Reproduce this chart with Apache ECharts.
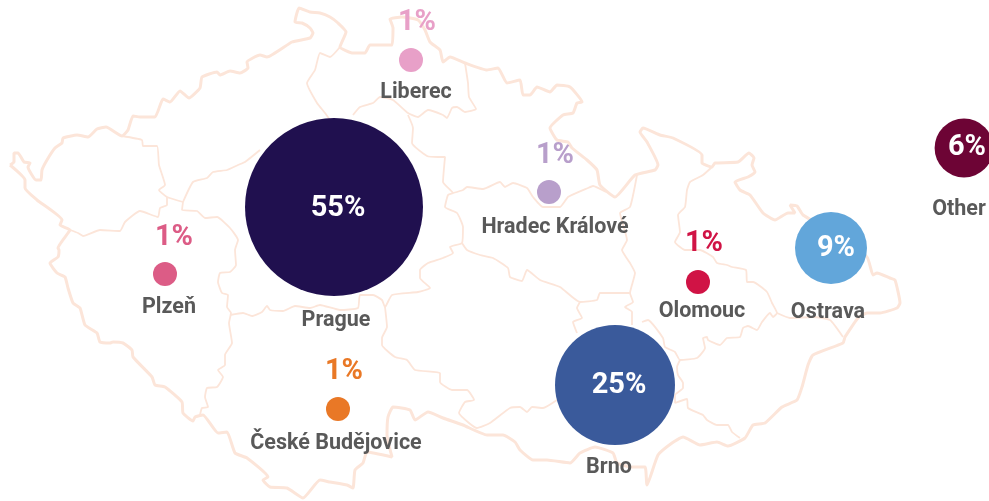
<!DOCTYPE html>
<html>
<head>
<meta charset="utf-8">
<script src="https://cdn.jsdelivr.net/npm/echarts@6/dist/echarts.min.js"></script>
<style>
html, body { margin: 0; padding: 0; background: #fff; }
#main { width: 989px; height: 501px; }
</style>
</head>
<body>
<div id="main"></div>
<script>
// values
var cities = ['Prague', 'Brno', 'Ostrava', 'Other', 'Liberec', 'Hradec Králové', 'Plzeň', 'Olomouc', 'České Budějovice'];
var shares = [55, 25, 9, 6, 1, 1, 1, 1, 1];
// where each city sits on the traced map
var cityX = [334, 615, 831, 964, 411, 549, 165, 698, 338];
var cityY = [207, 385, 248, 148, 60, 192, 274, 282, 409];

// traced map, country border first
var borderPath = [[10,165],[14,162],[14,153],[18,153],[24,162],[30,163],[28,167],[36,180],[41,180],[42,170],[47,160],[55,148],[62,143],[63,138],[77,135],[88,137],[97,129],[106,127],[122,136],[128,130],[133,116],[140,117],[155,117],[163,99],[170,102],[180,91],[189,98],[200,88],[202,77],[217,72],[220,75],[230,71],[240,73],[248,68],[247,62],[260,55],[267,57],[292,42],[310,38],[313,33],[310,28],[302,23],[295,22],[299,8],[310,12],[320,13],[330,17],[338,23],[346,32],[340,47],[353,53],[365,53],[370,45],[392,45],[393,28],[390,19],[402,17],[418,20],[425,30],[430,42],[440,50],[443,62],[450,57],[465,63],[487,70],[498,68],[507,83],[520,80],[523,95],[530,95],[537,87],[550,92],[557,85],[570,87],[582,102],[577,103],[573,113],[563,115],[550,128],[557,140],[568,142],[572,148],[587,160],[597,170],[600,185],[615,197],[635,175],[655,170],[658,165],[647,142],[640,132],[643,128],[660,135],[673,138],[702,155],[702,163],[712,167],[715,163],[738,162],[749,153],[754,158],[752,165],[755,172],[748,177],[735,182],[740,190],[750,195],[763,213],[775,220],[788,213],[795,213],[790,205],[797,206],[803,215],[820,225],[867,257],[873,275],[877,273],[890,278],[895,280],[900,303],[897,308],[880,313],[867,313],[858,318],[845,337],[843,343],[813,355],[808,365],[802,387],[797,400],[782,407],[765,423],[753,425],[745,438],[728,446],[717,442],[700,445],[683,437],[672,443],[658,455],[647,485],[645,467],[632,467],[617,463],[613,453],[595,447],[580,453],[570,463],[547,460],[533,460],[520,450],[515,442],[503,435],[487,435],[463,425],[443,418],[428,412],[415,420],[410,410],[393,407],[388,417],[387,435],[392,457],[367,452],[363,463],[355,470],[353,488],[347,485],[330,482],[320,480],[303,498],[287,488],[270,487],[263,480],[268,477],[247,458],[235,453],[227,432],[218,433],[203,415],[195,417],[193,421],[183,413],[182,402],[165,387],[155,385],[152,377],[133,357],[132,350],[123,343],[113,342],[110,343],[100,342],[97,333],[85,325],[80,308],[73,303],[68,288],[65,277],[57,273],[50,263],[58,257],[59,250],[58,248],[68,233],[70,230],[60,225],[62,220],[37,200],[25,188],[25,180],[10,165]];
var regionPaths = [
    [[122,136],[142,140],[143,146],[157,146],[159,165],[165,185],[159,190],[167,197],[183,202]],
    [[167,197],[167,205],[160,208],[158,217],[140,211],[125,222],[120,231],[100,230],[83,236],[78,233],[70,230]],
    [[183,202],[182,210],[197,211],[205,218],[217,217],[230,228],[238,240],[235,250],[236,265],[230,272],[220,273],[218,282],[222,293],[228,295],[227,307],[231,313],[229,323],[232,343],[225,355],[225,365],[218,370],[223,377],[217,387],[207,388],[205,397],[208,407],[202,408],[200,415]],
    [[183,202],[193,182],[207,178],[213,172],[227,170],[238,165],[245,162],[260,150]],
    [[340,47],[330,57],[320,53],[315,70],[307,83],[317,103],[325,113],[330,120]],
    [[230,315],[243,313],[252,316],[262,312],[267,306],[270,310],[283,311],[295,306],[310,308],[320,305],[340,310],[358,308],[360,295],[373,295],[382,300],[385,307],[392,295],[418,292],[430,288],[420,278],[420,270],[428,263],[443,258],[453,253],[450,247],[462,243],[463,227],[457,213],[445,207],[448,195],[453,193],[443,182],[445,157],[438,157],[427,156],[412,143],[413,128],[408,115]],
    [[353,115],[360,107],[373,103],[380,97],[393,100],[408,113],[418,117],[428,110],[443,115],[447,118],[452,108],[457,107],[465,112],[476,109],[469,97],[468,83],[465,63]],
    [[453,193],[463,190],[467,187],[483,189],[500,182],[505,187],[513,183],[527,188],[533,197],[543,207],[560,207],[568,197],[588,188],[593,186],[606,192]],
    [[637,175],[630,207],[620,213],[627,240],[622,250],[630,263],[635,273],[630,293],[633,302],[625,307],[632,312],[632,325]],
    [[462,243],[467,250],[480,255],[493,258],[508,268],[510,277],[522,281],[527,270],[540,280],[560,287],[580,302],[597,300],[600,293],[630,293]],
    [[580,302],[577,308],[582,318],[573,322],[577,333]],
    [[385,307],[387,327],[382,338],[382,345],[395,357],[407,360],[415,370],[440,373],[440,382],[452,390],[467,390],[474,400],[465,402],[459,413],[469,423],[477,428],[490,423],[510,408],[520,407],[527,412],[532,407],[543,408],[557,400]],
    [[642,322],[648,320],[663,338],[665,347],[675,352],[680,360],[697,358],[705,348],[703,338],[707,337],[708,340],[720,345],[727,338],[740,337],[743,328],[748,326],[757,330],[762,322],[770,313],[773,317],[777,313],[772,303],[767,292],[753,282],[747,282],[746,270],[732,267],[727,265],[717,263],[713,257],[700,250],[685,250],[675,242],[680,232],[678,215],[685,207],[687,190],[690,182],[703,175],[712,167]],
    [[680,360],[677,367],[678,375],[683,383],[683,388],[675,395],[675,403],[687,399],[688,408],[703,415],[707,420],[717,425],[728,425],[732,432],[740,438]],
    [[777,313],[790,318],[813,317],[830,320],[843,337]]
];

var bubbleColors = ['#20104f', '#3a5a9b', '#62a6da', '#6d0435', '#e8a0c8', '#b89fcb', '#dc5c86', '#d01345', '#e97826'];
var shareOffsets = [[4,2], [4,1], [5,1], [3,0], [6,-37], [6,-36], [9,-36], [6,-38], [6,-37]];
var nameOffsets = [[2,114], [-6,83], [-3,65], [-5,62], [5,33], [6,36], [4,34], [4,30], [-2,35]];

function bubbleSize(share) {
    return 24 * Math.sqrt(share);
}

function pathSeries(path, width) {
    return {
        type: 'line',
        data: path,
        symbol: 'none',
        silent: true,
        smooth: 0.15,
        z: 1,
        lineStyle: { color: '#fce5d9', width: width }
    };
}

function bubbleData() {
    var out = [];
    for (var i = 0; i < cities.length; i++) {
        var big = shares[i] > 1;
        out.push({
            value: [cityX[i], cityY[i], shares[i]],
            symbolSize: bubbleSize(shares[i]),
            itemStyle: { color: bubbleColors[i], opacity: 1 },
            label: {
                show: true,
                position: 'inside',
                formatter: shares[i] + '%',
                offset: shareOffsets[i],
                color: big ? '#ffffff' : bubbleColors[i],
                fontFamily: 'Roboto',
                fontWeight: 700,
                fontSize: 29
            }
        });
    }
    return out;
}

function nameData() {
    var out = [];
    for (var i = 0; i < cities.length; i++) {
        out.push({
            value: [cityX[i], cityY[i]],
            label: { show: true, position: 'inside', formatter: cities[i], offset: nameOffsets[i] }
        });
    }
    return out;
}

var series = [pathSeries(borderPath, 3)];
for (var r = 0; r < regionPaths.length; r++) {
    series.push(pathSeries(regionPaths[r], 1.8));
}
series.push({
    type: 'scatter',
    data: bubbleData(),
    z: 3,
    clip: false,
    silent: true
});
series.push({
    type: 'scatter',
    data: nameData(),
    symbolSize: 2,
    z: 4,
    silent: true,
    itemStyle: { color: 'transparent', opacity: 1 },
    label: { color: '#595959', fontFamily: 'Roboto', fontWeight: 700, fontSize: 21.5 }
});

var chart = echarts.init(document.getElementById('main'));
chart.setOption({
    animation: false,
    backgroundColor: '#ffffff',
    grid: { left: 0, right: 0, top: 0, bottom: 0 },
    xAxis: { type: 'value', min: 0, max: 989, show: false },
    yAxis: { type: 'value', min: 0, max: 501, inverse: true, show: false },
    series: series
});
</script>
</body>
</html>
